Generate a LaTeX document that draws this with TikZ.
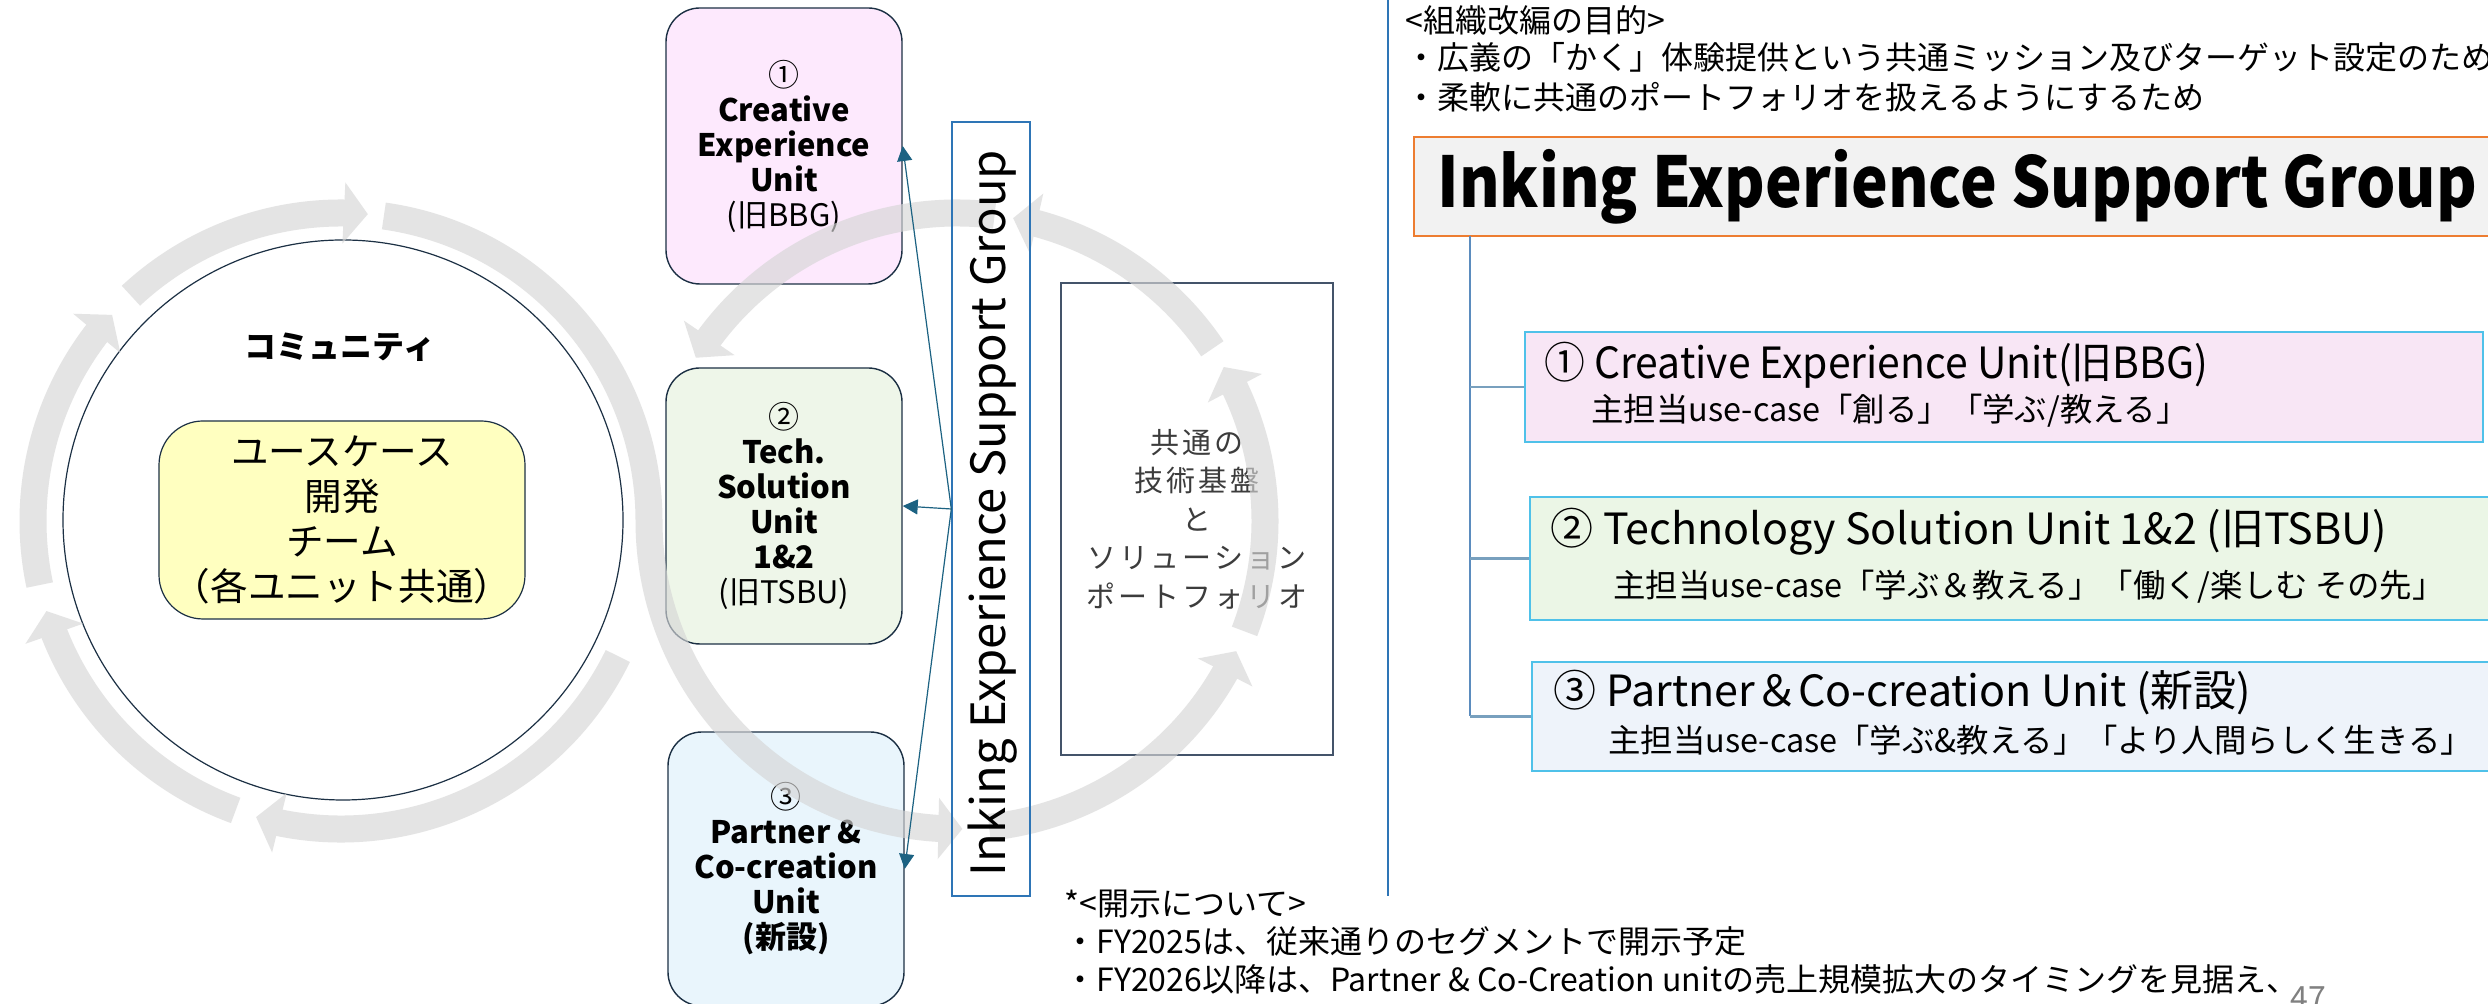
\documentclass[tikz,border=0pt]{standalone}
\usepackage{fontspec}
\setmainfont{Noto Sans CJK JP}
\newfontfamily\spacedfont[LetterSpace=10]{Noto Sans CJK JP}
\usetikzlibrary{arrows.meta,bending,calc}
\definecolor{bandc}{RGB}{214,214,214}
\definecolor{navy}{RGB}{28,48,68}
\definecolor{pinkf}{RGB}{253,233,253}
\definecolor{greenf}{RGB}{238,246,233}
\definecolor{bluef}{RGB}{233,245,252}
\definecolor{yellowf}{RGB}{255,255,192}
\definecolor{connc}{RGB}{28,98,130}
\definecolor{vline}{RGB}{46,117,182}
\definecolor{orangec}{RGB}{237,125,49}
\definecolor{titlef}{RGB}{242,242,242}
\definecolor{cyanb}{RGB}{79,193,233}
\definecolor{rone}{RGB}{248,230,245}
\definecolor{rtwo}{RGB}{235,246,230}
\definecolor{rthree}{RGB}{238,243,250}
\definecolor{treec}{RGB}{91,140,190}
\definecolor{branchc}{RGB}{120,160,190}
\definecolor{slate}{RGB}{68,84,106}
\definecolor{darktext}{RGB}{60,60,60}
\definecolor{pagegray}{RGB}{128,128,128}
\begin{document}
\begin{tikzpicture}[x=0.5pt,y=0.5pt,
  band/.style={line width=13.5pt, draw=bandc, -{Triangle[length=12pt,width=30pt]}},
  unitl/.style={draw=navy, line width=0.7pt, rounded corners=17pt, minimum width=118pt, minimum height=138pt, inner sep=0, align=center, font=\fontsize{15.5pt}{17.5pt}\selectfont},
  conn/.style={draw=connc, line width=0.6pt, -{Triangle[length=7.5pt,width=7.5pt]}},
  unitr/.style={draw=cyanb, line width=1pt, inner sep=0},
  rtitle/.style={anchor=west, inner sep=0, font=\fontsize{21.5pt}{26pt}\selectfont},
  rsub/.style={anchor=west, inner sep=0, font=\fontsize{16.2pt}{19pt}\selectfont},
  note/.style={anchor=west, inner sep=0, font=\fontsize{16pt}{19pt}\selectfont},
  branch/.style={draw=branchc, line width=1.2pt},
]
\useasboundingbox (0,0) rectangle (2488,1004);
\fill[white] (0,0) rectangle (2488,1004);

% left community circle
\node[draw=navy, circle, minimum size=280pt, inner sep=0, line width=0.6pt] (comm) at (343,484) {};
\node[inner sep=0, font=\fontsize{16pt}{19pt}\selectfont\bfseries] (commlabel) at (340,657) {コミュニティ};
\node[draw=navy, line width=0.6pt, fill=yellowf, rounded corners=22pt, minimum width=183pt, minimum height=99pt, inner sep=0, align=center, font=\fontsize{18.8pt}{22.5pt}\selectfont] (ucase) at (342,484) {ユースケース\\開発\\チーム\\（各ユニット共通）};

% left unit boxes
\node[unitl, fill=pinkf] (lb1) at (784,858) {①\\\textbf{Creative}\\\textbf{Experience}\\\textbf{Unit}\\(旧BBG)};
\node[unitl, fill=greenf] (lb2) at (784,498) {②\\\textbf{Tech.}\\\textbf{Solution}\\\textbf{Unit}\\\textbf{1\&2}\\(旧TSBU)};
\node[unitl, fill=bluef, minimum height=137pt] (lb3) at (786,135) {③\\\textbf{Partner \&}\\\textbf{Co-creation}\\\textbf{Unit}\\\textbf{(新設)}};

% common platform box
\node[draw=slate, line width=0.7pt, minimum width=136pt, minimum height=236pt, inner sep=0, align=center, font=\fontsize{14.5pt}{19.25pt}\spacedfont, text=darktext] (base) at (1197,485) {共通の\\技術基盤\\と\\ソリューション\\ポートフォリオ};

% gray cycle bands
\coordinate (Lc) at (341,483);
\coordinate (Rc) at (957,483);
\begin{scope}[transparency group, opacity=0.65]
\draw[band] ($(Lc)+(133:308)$) arc[start angle=133,end angle=85,radius=308];
\draw[band] ($(Lc)+(82:308)$) arc[start angle=82,end angle=0,radius=308] arc[start angle=180,end angle=271,radius=308];
\draw[band] ($(Lc)+(334:308)$) arc[start angle=334,end angle=254,radius=308];
\draw[band] ($(Lc)+(250:308)$) arc[start angle=250,end angle=197,radius=308];
\draw[band] ($(Lc)+(192:308)$) arc[start angle=192,end angle=138,radius=308];
\draw[band] ($(Rc)+(276:308)$) arc[start angle=276,end angle=335,radius=308];
\draw[band] ($(Rc)+(339:308)$) arc[start angle=339,end angle=390,radius=308];
\draw[band] ($(Rc)+(34:308)$) arc[start angle=34,end angle=79.5,radius=308];
\draw[band] ($(Rc)+(83:308)$) arc[start angle=83,end angle=148,radius=308];
\end{scope}

% vertical group box
\node[draw=vline, line width=0.7pt, minimum width=39pt, minimum height=387pt, inner sep=0] (ieg) at (991,495) {};
\node[rotate=90, inner sep=0, font=\fontsize{23.6pt}{27pt}\selectfont] (iegtext) at (993,491) {Inking Experience Support Group};

% connectors
\draw[conn] (ieg.west) -- (lb1.east);
\draw[conn] (ieg.west) -- (lb2.east);
\draw[conn] (ieg.west) -- (lb3.east);

% separator
\coordinate (sepTop) at (1388,1004);
\coordinate (sepBot) at (1388,108);
\draw[draw=vline, line width=0.8pt] (sepTop) -- (sepBot);

% purpose text
\node[note] (p1) at (1405,984) {<組織改編の目的>};
\node[note] (p2) at (1405,947) {・広義の「かく」体験提供という共通ミッション及びターゲット設定のため};
\node[note] (p3) at (1405,907) {・柔軟に共通のポートフォリオを扱えるようにするため};

% title
\node[draw=orangec, line width=1.2pt, fill=titlef, minimum width=540.5pt, minimum height=49.5pt, inner sep=0] (title) at (1954.5,817.5) {};
\node[anchor=base west, inner sep=0, font=\fontsize{35pt}{40pt}\selectfont\bfseries] (titletext) at (1437,796) {\scalebox{0.885}[1]{Inking Experience Support Group}};

% right unit boxes
\node[unitr, fill=rone, minimum width=479pt, minimum height=55pt] (ur1) at (2004,617) {};
\node[unitr, fill=rtwo, minimum width=482.5pt, minimum height=61.5pt] (ur2) at (2012.5,445.5) {};
\node[unitr, fill=rthree, minimum width=481.5pt, minimum height=54.5pt] (ur3) at (2013.5,287.5) {};
\node[rtitle] (ur1t) at (1544,639) {\scalebox{0.95}[1]{① Creative Experience Unit(旧BBG)}};
\node[rsub] (ur1s) at (1591,593) {主担当use-case「創る」「学ぶ/教える」};
\node[rtitle] (ur2t) at (1550,472) {② Technology Solution Unit 1\&2 (旧TSBU)};
\node[rsub] (ur2s) at (1613,417) {主担当use-case「学ぶ＆教える」「働く/楽しむ その先」};
\node[rtitle] (ur3t) at (1553,311) {③ Partner＆Co-creation Unit (新設)};
\node[rsub] (ur3s) at (1608,264) {主担当use-case「学ぶ\&教える」「より人間らしく生きる」};

% tree
\coordinate (treeTop) at (1470,768);
\coordinate (treeBot) at (1470,287.5);
\draw[draw=treec, line width=0.8pt] (treeTop) -- (treeBot);
\draw[branch] (treeTop |- ur1.west) -- (ur1.west);
\draw[branch] (treeTop |- ur2.west) -- (ur2.west);
\draw[branch] (treeTop |- ur3.west) -- (ur3.west);

% disclosure note
\node[note] (d1) at (1064,100) {*<開示について>};
\node[note] (d2) at (1064,63) {・FY2025は、従来通りのセグメントで開示予定};
\node[note] (d3) at (1064,25) {・FY2026以降は、Partner \& Co-Creation unitの売上規模拡大のタイミングを見据え、};
\node[anchor=base west, inner sep=0, font=\fontsize{16pt}{19pt}\selectfont, text=pagegray] (pageno) at (2290,-6) {47};
\end{tikzpicture}
\end{document}
